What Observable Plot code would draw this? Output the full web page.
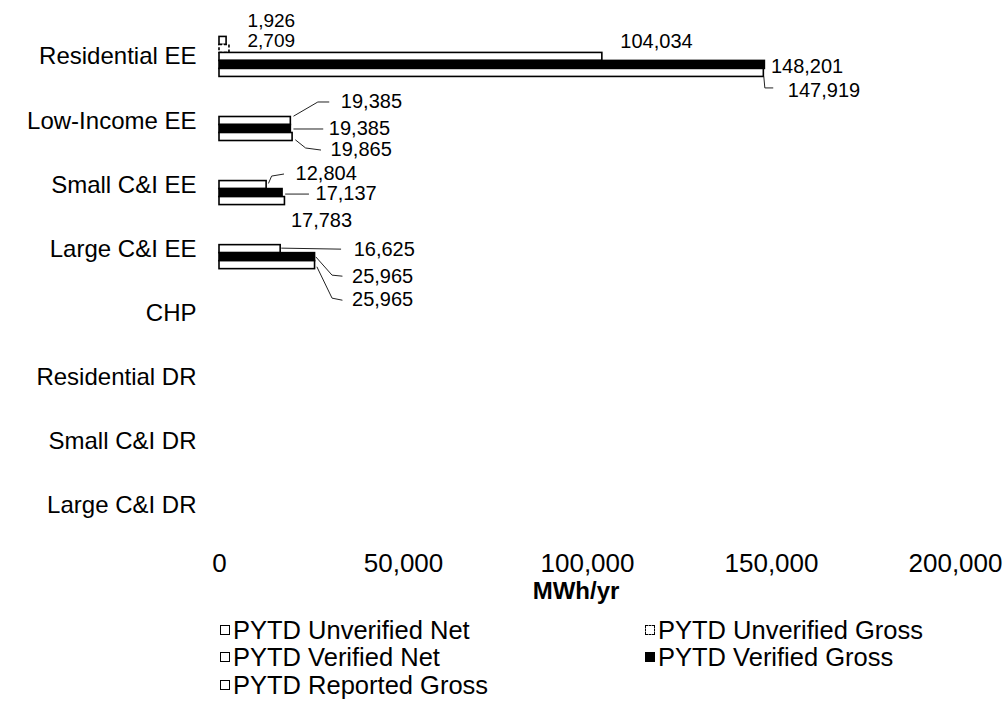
<!DOCTYPE html>
<html>
<head>
<meta charset="utf-8">
<script src="https://cdn.jsdelivr.net/npm/d3@7"></script>
<script src="https://cdn.jsdelivr.net/npm/@observablehq/plot@0.6"></script>
<style>
  html, body { margin: 0; padding: 0; background: #fff; }
  #wrap { position: relative; width: 1005px; height: 727px; font-family: "Liberation Sans", Arial, Helvetica, sans-serif; color: #000; }
  #wrap svg { position: absolute; left: 0; top: 0; }
  .xlabel { position: absolute; font-weight: bold; font-size: 24px; transform: translate(-50%, -50%); white-space: nowrap; }
  .leg { position: absolute; font-size: 25.5px; display: flex; align-items: center; transform: translateY(-50%); white-space: nowrap; line-height: 22px; height: 22px; }
  .sw { box-sizing: border-box; width: 10px; height: 10px; border: 1.6px solid #000; background: #fff; margin-right: 3px; }
</style>
</head>
<body>
<div id="wrap"></div>
<script>
// ---------------- data ----------------
const categories = ["Residential EE", "Low-Income EE", "Small C&I EE", "Large C&I EE", "CHP", "Residential DR", "Small C&I DR", "Large C&I DR"];
const seriesNames = ["PYTD Unverified Net", "PYTD Unverified Gross", "PYTD Verified Net", "PYTD Verified Gross", "PYTD Reported Gross"];
const unverifiedNet   = [1926,   0,     0,     0,     0, 0, 0, 0];
const unverifiedGross = [2709,   0,     0,     0,     0, 0, 0, 0];
const verifiedNet     = [104034, 19385, 12804, 16625, 0, 0, 0, 0];
const verifiedGross   = [148201, 19385, 17137, 25965, 0, 0, 0, 0];
const reportedGross   = [147919, 19865, 17783, 25965, 0, 0, 0, 0];
const xTicks = [0, 50000, 100000, 150000, 200000];
const xDomain = [0, 200000];
const xLabel = "MWh/yr";

// ---------------- styles / layout (not data) ----------------
const seriesStyle = [
  {fill: "#fff", stroke: "#000"},
  {fill: "#fff", stroke: "#000", strokeDasharray: "3,2"},
  {fill: "#fff", stroke: "#000"},
  {fill: "#000", stroke: "#000"},
  {fill: "#fff", stroke: "#000"}
];
// data label placement (pixel offsets from each bar's end) and leader polylines
const labelLayout = [
  {c: 0, s: 0, dx: 21, dy: -20, size: 19},
  {c: 0, s: 1, dx: 18, dy: -8, size: 19},
  {c: 0, s: 2, dx: 18, dy: -15},
  {c: 0, s: 3, dx: 6,  dy: 2},
  {c: 0, s: 4, dx: 24, dy: 18, leader: [[0, 4], [1, 15], [9, 15]]},
  {c: 1, s: 2, dx: 50, dy: -19, leader: [[3, -5], [27, -19], [38, -19]]},
  {c: 1, s: 3, dx: 38, dy: 0, leader: [[3, 0], [32, 0]]},
  {c: 1, s: 4, dx: 38, dy: 13, leader: [[3, 3], [13, 11], [28, 13]]},
  {c: 2, s: 2, dx: 29, dy: -11, leader: [[2, -2], [5, -9], [17, -11]]},
  {c: 2, s: 3, dx: 33, dy: 1, leader: [[3, 1], [26, 1]]},
  {c: 2, s: 4, dx: 6,  dy: 20},
  {c: 3, s: 2, dx: 73, dy: 0, leader: [[1, -1], [60, 0]]},
  {c: 3, s: 3, dx: 37, dy: 19, leader: [[1, 0], [17, 18], [27, 19]]},
  {c: 3, s: 4, dx: 37, dy: 34, leader: [[2, 2], [17, 33], [27, 35]]}
];

// ---------------- build table ----------------
const seriesValues = [unverifiedNet, unverifiedGross, verifiedNet, verifiedGross, reportedGross];
const rows = [];
categories.forEach((c, i) => seriesNames.forEach((s, j) => rows.push({category: c, series: s, value: seriesValues[j][i]})));
const fmt = d3.format(",");
const FONT = "'Liberation Sans', Arial, Helvetica, sans-serif";

function build(withLeaders) {
  const marks = [];
  seriesNames.forEach((s, j) => {
    marks.push(Plot.barX(rows, {
      filter: d => d.series === s && d.value > 0,
      fy: "category", y: "series", x: "value",
      fill: seriesStyle[j].fill, stroke: seriesStyle[j].stroke,
      strokeWidth: 1.6, strokeDasharray: seriesStyle[j].strokeDasharray
    }));
  });
  labelLayout.forEach(L => {
    const row = rows.find(d => d.category === categories[L.c] && d.series === seriesNames[L.s]);
    marks.push(Plot.text([row], {
      fy: "category", y: "series", x: "value", text: d => fmt(d.value),
      textAnchor: "start", dx: L.dx, dy: L.dy, fontSize: L.size || 20, fill: "#000"
    }));
    if (withLeaders && L.leader) {
      const pts = L.leader;
      marks.push(Plot.vector([row], {
        fy: "category", y: "series", x: "value", anchor: "start", length: 1,
        stroke: "#222", strokeWidth: 1, fill: "none",
        shape: {draw(ctx) { pts.forEach(([px, py], k) => k ? ctx.lineTo(px, py) : ctx.moveTo(px, py)); }}
      }));
    }
  });
  marks.push(Plot.axisFy({anchor: "left", tickSize: 0, tickPadding: 23, label: null, fontSize: 24}));
  marks.push(Plot.axisX({ticks: xTicks, tickFormat: fmt, tickSize: 0, tickPadding: 27, label: null, fontSize: 26}));
  return Plot.plot({
    width: 1005,
    height: 580,
    marginLeft: 219,
    marginRight: 50,
    marginTop: 13,
    marginBottom: 32,
    style: {fontFamily: FONT, background: "transparent", overflow: "visible", color: "#000"},
    x: {domain: xDomain},
    y: {domain: seriesNames, padding: 0, axis: null},
    fy: {domain: categories, paddingInner: 0.35, paddingOuter: 0.35, round: false, label: null},
    marks
  });
}

let chart;
try { chart = build(true); } catch (e) { console.error(e); chart = build(false); }
const wrap = document.getElementById("wrap");
wrap.appendChild(chart);

// axis title
const xl = document.createElement("div");
xl.className = "xlabel";
xl.textContent = xLabel;
xl.style.left = "576px"; xl.style.top = "591px";
wrap.appendChild(xl);

// legend
const legendPos = [[220, 630], [220, 657], [220, 685], [645, 630], [645, 657]];
const legendOrder = [0, 2, 4, 1, 3];
legendOrder.forEach((j, k) => {
  const item = document.createElement("div");
  item.className = "leg";
  item.style.left = legendPos[k][0] + "px";
  item.style.top = legendPos[k][1] + "px";
  const sw = document.createElement("span");
  sw.className = "sw";
  sw.style.background = seriesStyle[j].fill;
  if (seriesStyle[j].strokeDasharray) sw.style.borderStyle = "dashed";
  const t = document.createElement("span");
  t.textContent = seriesNames[j];
  item.appendChild(sw); item.appendChild(t);
  wrap.appendChild(item);
});
</script>
</body>
</html>
